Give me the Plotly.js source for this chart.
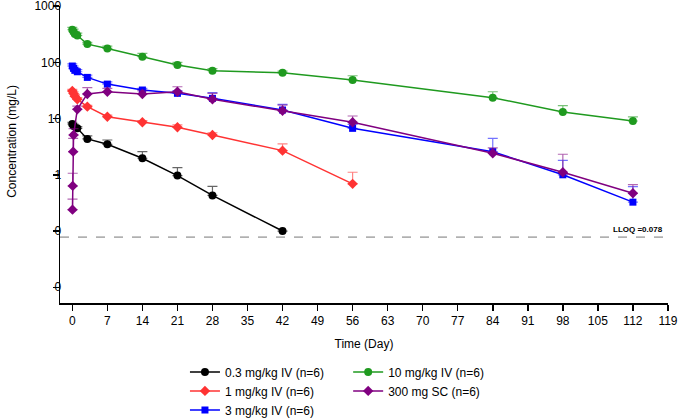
<!DOCTYPE html>
<html><head><meta charset="utf-8">
<script src="https://cdn.plot.ly/plotly-3.0.1.min.js"></script>
<style>html,body{margin:0;padding:0;background:#fff}#chart{width:680px;height:419px}</style>
</head><body><div id="chart"></div>
<script>
// Time (day) and concentration (mg/L) per cohort, upper SD error
const t03 = [0, 0.25, 1, 3, 7, 14, 21, 28, 42];
const c03 = [8.0, 7.4, 6.7, 4.35, 3.49, 1.97, 0.97, 0.43, 0.1];
const e03 = [0.6, 0.6, 0.5, 0.57, 0.67, 0.62, 0.375, 0.19, 0];

const t1 = [0, 0.25, 0.5, 1, 3, 7, 14, 21, 28, 42, 56];
const c1 = [31, 28, 25, 22, 16.3, 10.8, 8.6, 7.0, 5.1, 2.69, 0.69];
const e1 = [2, 2, 2, 1.5, 0.8, 0.7, 0.6, 0.7, 0.5, 0.85, 0.42];

const t3 = [0, 0.25, 0.5, 1, 3, 7, 14, 21, 28, 42, 56, 84, 98, 112];
const c3 = [86, 78, 72, 68, 54, 41, 32.2, 28.1, 22.9, 14.2, 6.7, 2.58, 1.0, 0.326];
const e3 = [8, 8, 7, 6, 5.4, 4.1, 2.3, 3.2, 6, 3.7, 1.2, 1.87, 0.8, 0.29];

const t10 = [0, 0.25, 0.5, 1, 3, 7, 14, 21, 28, 42, 56, 84, 98, 112];
const c10 = [380, 350, 320, 300, 211, 177, 126, 89.6, 71, 65, 48.5, 23.5, 13.1, 9.06];
const e10 = [40, 40, 35, 30, 15, 17.5, 18.8, 10.5, 6, 4.7, 9.3, 6.5, 3.9, 1.7];

const tsc = [0.04, 0.08, 0.17, 0.25, 1, 3, 7, 14, 21, 28, 42, 56, 84, 98, 112];
const csc = [0.24, 0.635, 2.58, 5.1, 14.6, 27.4, 30, 27.4, 30, 22, 13.8, 8.6, 2.42, 1.11, 0.47];
const esc = [0.13, 0.43, 1.86, 1.5, 2, 8, 4.3, 3.8, 6.8, 6, 3.6, 2.5, 0.6, 1.21, 0.2];

const names = ['0.3 mg/kg IV (n=6)', '1 mg/kg IV (n=6)', '3 mg/kg IV (n=6)', '10 mg/kg IV (n=6)', '300 mg SC (n=6)'];
const xTicks = [0, 7, 14, 21, 28, 35, 42, 49, 56, 63, 70, 77, 84, 91, 98, 105, 112, 119];
const yTickVals = [1000, 100, 10, 1, 0.1, 0.01];
const yTickText = ['1000', '100', '10', '1', '0', '0'];
const lloq = 0.078;
const yTitle = 'Concentration (mg/L)';
const xTitle = 'Time (Day)';

function tr(x, y, e, name, color, ecolor, symbol, legend) {
  return {
    x: x, y: y, name: name, type: 'scatter', mode: 'lines+markers',
    line: {color: color, width: 1.5},
    marker: {color: color, symbol: symbol, size: symbol === 'square' ? 7 : 8},
    error_y: {type: 'data', symmetric: false, array: e, arrayminus: e.map(() => 0),
              color: ecolor, thickness: 1.2, width: 5},
    legend: legend
  };
}

const data = [
  tr(t03, c03, e03, names[0], '#000000', 'rgba(0,0,0,0.6)', 'circle', 'legend'),
  tr(t1, c1, e1, names[1], '#ff3333', 'rgba(255,51,51,0.6)', 'diamond', 'legend'),
  tr(t3, c3, e3, names[2], '#0000ff', 'rgba(0,0,255,0.55)', 'square', 'legend'),
  tr(t10, c10, e10, names[3], '#1f9a1f', 'rgba(31,154,31,0.6)', 'circle', 'legend2'),
  tr(tsc, csc, esc, names[4], '#800080', 'rgba(128,0,128,0.6)', 'diamond', 'legend2')
];

const fam = 'Liberation Sans, Arial, sans-serif';
const font = {family: fam, size: 12, color: '#000'};
const layout = {
  width: 680, height: 419,
  margin: {l: 60, r: 12, t: 6, b: 116, autoexpand: false},
  paper_bgcolor: '#fff', plot_bgcolor: '#fff',
  font: font,
  showlegend: true,
  xaxis: {
    range: [-2.46, 119.01], tickvals: xTicks, ticktext: xTicks.map(String),
    showline: true, linecolor: '#000', linewidth: 1.5, showgrid: false, zeroline: false,
    ticks: 'outside', ticklen: 6, tickwidth: 1.5, tickcolor: '#000', automargin: true,
    tickfont: font, ticklabeloverflow: 'allow',
    title: {text: xTitle, font: font, standoff: 12}
  },
  yaxis: {
    type: 'log', range: [-2.28, 3.002], tickvals: yTickVals, ticktext: yTickText,
    showline: true, linecolor: '#000', linewidth: 1.5, showgrid: false, zeroline: false,
    ticks: 'outside', ticklen: 6, tickwidth: 1.5, tickcolor: '#000', automargin: false,
    tickfont: font, ticklabeloverflow: 'allow', ticklabelstandoff: -11
  },
  legend: {xref: 'container', yref: 'container', x: 0.272, y: 0.147, xanchor: 'left', yanchor: 'top',
           orientation: 'v', font: font, bgcolor: 'rgba(0,0,0,0)', tracegroupgap: 0},
  legend2: {xref: 'container', yref: 'container', x: 0.512, y: 0.147, xanchor: 'left', yanchor: 'top',
           orientation: 'v', font: font, bgcolor: 'rgba(0,0,0,0)', tracegroupgap: 0},
  shapes: [{type: 'line', xref: 'paper', x0: 0, x1: 1, yref: 'y', y0: lloq, y1: lloq,
            line: {color: '#777', width: 1, dash: 'dash'}}],
  annotations: [
    {xref: 'paper', x: 0.995, yref: 'y', y: Math.log10(lloq), xanchor: 'right', yanchor: 'bottom',
     yshift: 1, showarrow: false, text: '<b>LLOQ =0.078</b>',
     font: {family: fam, size: 8, color: '#000'}},
    {xref: 'paper', x: -0.079, yref: 'paper', y: 0.546, xanchor: 'center', yanchor: 'middle',
     textangle: -90, showarrow: false, text: yTitle, font: font}
  ]
};

Plotly.newPlot('chart', data, layout, {displayModeBar: false, staticPlot: true});
</script></body></html>
